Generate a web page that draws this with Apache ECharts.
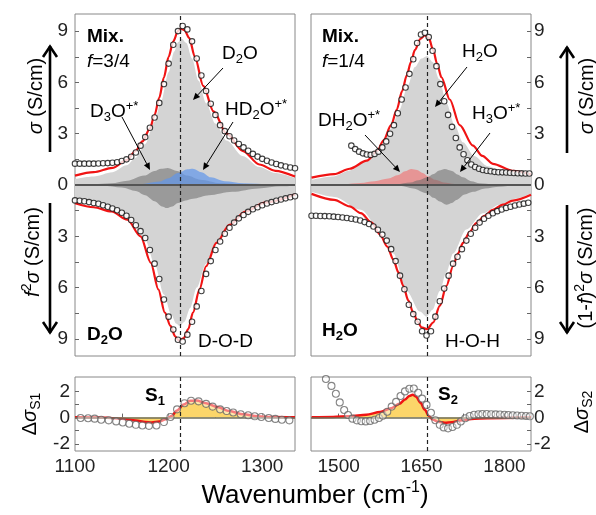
<!DOCTYPE html>
<html><head><meta charset="utf-8">
<script src="https://cdn.jsdelivr.net/npm/echarts@6/dist/echarts.min.js"></script>
<style>html,body{margin:0;padding:0;background:#fff}#c{width:596px;height:515px}</style>
</head><body><div id="c"></div>
<script>
// ---------------- DATA ----------------
const peakLeft = 1212, peakRight = 1660;
const leftRange = [1100, 1335], rightRange = [1450, 1848];
const mainTicks = [-9,-7.5,-6,-4.5,-3,-1.5,0,1.5,3,4.5,6,7.5,9];
const mainLabels = [-9,-6,-3,0,3,6,9];
const diffTicks = [-2,-1,0,1,2];
const diffLabels = [-2,0,2];
const leftXTicks = [1150,1200,1250,1300];
const leftXLabels = [1100,1200,1300];
const rightXTicks = [1500,1575,1650,1725,1800];
const rightXLabels = [1500,1650,1800];

// Top-left: mixture f=3/4 (sigma)
const tlObsX = [1100,1105,1110,1115,1120,1125,1130,1135,1140,1145,1150,1155,1160,1165,1170,1175,1180,1185,1190,1195,1200,1205,1210,1215,1220,1225,1230,1235,1240,1245,1250,1255,1260,1265,1270,1275,1280,1285,1290,1295,1300,1305,1310,1315,1320,1325,1330,1335];
const tlObs = [1.25,1.25,1.25,1.25,1.25,1.26,1.27,1.28,1.3,1.33,1.4,1.5,1.65,1.9,2.3,2.8,3.35,3.95,4.8,5.9,7.1,8.2,9.0,9.3,9.1,8.4,7.4,6.4,5.5,4.75,4.1,3.5,3.15,2.85,2.6,2.4,2.2,2.0,1.82,1.66,1.53,1.42,1.32,1.23,1.15,1.08,1.02,0.98];
const tlFit = [[1100,0.55],[1120,0.75],[1140,1.0],[1155,1.45],[1165,2.0],[1172,2.55],[1180,3.3],[1185,4.1],[1190,5.1],[1195,6.3],[1200,7.5],[1205,8.4],[1210,9.0],[1213,9.15],[1217,9.05],[1222,8.6],[1228,7.5],[1237,5.8],[1248,4.3],[1262,3.0],[1279,2.0],[1297,1.2],[1314,0.83],[1335,0.5]];
const tlD2O = [[1100,0.35],[1120,0.5],[1140,0.75],[1155,1.15],[1165,1.6],[1175,2.4],[1185,3.7],[1192,4.9],[1200,6.6],[1206,7.8],[1210,8.35],[1214,8.55],[1219,8.3],[1225,7.4],[1232,6.1],[1240,4.8],[1250,3.6],[1262,2.6],[1279,1.7],[1297,1.05],[1314,0.7],[1335,0.4]];
const tlD3O = [[1100,0.01],[1120,0.04],[1139,0.1],[1156,0.25],[1174,0.55],[1185,0.82],[1192,0.95],[1199,1.0],[1209,0.82],[1220,0.55],[1234,0.3],[1255,0.1],[1290,0.02],[1335,0]];
const tlHD2O = [[1150,0.01],[1170,0.05],[1190,0.2],[1200,0.4],[1210,0.7],[1220,0.92],[1226,0.95],[1235,0.75],[1245,0.45],[1260,0.22],[1280,0.1],[1310,0.03],[1335,0.01]];

// Bottom-left: pure D2O (f^2 sigma), magnitudes plotted downward
const blObsX = tlObsX;
const blObs = [0.9,0.92,0.95,1.0,1.05,1.1,1.18,1.27,1.37,1.48,1.62,1.8,2.05,2.35,2.7,3.1,3.8,4.6,5.5,6.7,7.7,8.45,9.05,9.15,8.75,8.0,7.1,6.2,5.2,4.45,3.8,3.3,2.85,2.5,2.2,1.95,1.75,1.57,1.42,1.3,1.18,1.08,1.0,0.92,0.85,0.78,0.72,0.66];
const blFit = [[1100,1.07],[1120,1.3],[1139,1.55],[1156,2.03],[1170,3.0],[1181,4.55],[1189,6.1],[1196,7.46],[1202,8.24],[1207,8.85],[1211,9.1],[1216,8.97],[1221,8.43],[1226,7.46],[1233,6.1],[1240,4.75],[1251,3.39],[1265,2.33],[1282,1.55],[1303,1.03],[1335,0.56]];
const blMain = [[1100,0.85],[1120,1.05],[1140,1.4],[1160,2.1],[1175,3.2],[1185,4.6],[1195,6.4],[1203,7.6],[1208,8.1],[1212,8.25],[1217,8.0],[1223,7.2],[1230,6.0],[1240,4.6],[1250,3.4],[1265,2.3],[1282,1.5],[1303,0.98],[1335,0.55]];
const blMinor = [[1100,0.01],[1130,0.05],[1150,0.15],[1165,0.35],[1175,0.6],[1185,0.95],[1193,1.25],[1198,1.35],[1204,1.25],[1210,1.05],[1218,0.9],[1226,0.8],[1243,0.6],[1268,0.4],[1296,0.2],[1320,0.08],[1335,0.04]];

// Top-right: mixture f=1/4 (sigma)
const trObsX = [1523,1530,1537,1544,1551,1558,1565,1572,1579,1586,1593,1600,1607,1614,1621,1628,1635,1642,1649,1656,1663,1670,1677,1684,1691,1698,1705,1712,1719,1726,1733,1740,1747,1754,1761,1768,1775,1782,1789,1796,1803,1810,1817,1824,1831,1838,1845];
const trObs = [2.3,2.1,1.95,1.85,1.78,1.76,1.82,1.95,2.2,2.55,3.0,3.5,4.2,5.0,5.7,6.5,7.35,8.3,8.8,8.9,8.65,7.85,6.95,5.9,4.9,4.1,3.4,2.75,2.2,1.8,1.45,1.2,1.05,0.95,0.88,0.83,0.8,0.77,0.75,0.74,0.73,0.72,0.7,0.69,0.68,0.67,0.67];
const trFit = [[1451,0.43],[1492,0.64],[1520,0.95],[1551,1.42],[1570,2.0],[1581,2.6],[1595,3.5],[1605,4.4],[1615,5.5],[1623,6.4],[1631,7.2],[1638,7.9],[1648,8.55],[1656,8.75],[1663,8.6],[1671,7.9],[1678,7.1],[1686,6.3],[1701,5.0],[1719,3.5],[1743,2.3],[1760,1.7],[1779,1.24],[1815,0.83],[1848,0.62]];
const trH2O = [[1451,0.3],[1490,0.5],[1520,0.85],[1550,1.4],[1575,2.2],[1595,3.3],[1610,4.4],[1625,5.8],[1638,6.9],[1650,7.4],[1660,7.55],[1670,7.2],[1682,6.2],[1695,4.8],[1710,3.5],[1725,2.5],[1745,1.7],[1770,1.1],[1800,0.75],[1848,0.5]];
const trDH2O = [[1480,0.01],[1510,0.05],[1540,0.12],[1565,0.22],[1590,0.38],[1608,0.58],[1620,0.8],[1632,0.93],[1642,0.88],[1652,0.7],[1662,0.5],[1675,0.3],[1690,0.15],[1710,0.06],[1740,0.02],[1780,0]];
const trH3O = [[1580,0.01],[1605,0.05],[1630,0.15],[1645,0.28],[1660,0.45],[1672,0.65],[1682,0.85],[1692,0.93],[1705,0.82],[1715,0.62],[1725,0.45],[1740,0.22],[1755,0.1],[1780,0.03],[1820,0]];

// Bottom-right: pure H2O ((1-f)^2 sigma)
const brObsX = [1451,1459,1467,1475,1483,1491,1499,1507,1515,1523,1531,1539,1547,1555,1563,1571,1579,1587,1595,1603,1611,1619,1627,1635,1643,1651,1659,1667,1675,1683,1691,1699,1707,1715,1723,1731,1739,1747,1755,1763,1771,1779,1787,1795,1803,1811,1819,1827,1835,1843];
const brObs = [1.8,1.8,1.81,1.82,1.83,1.85,1.87,1.9,1.93,1.97,2.02,2.08,2.17,2.28,2.43,2.62,2.9,3.25,3.75,4.45,5.3,6.1,7.0,7.55,8.0,8.55,8.8,8.55,7.7,6.8,6.05,5.3,4.6,4.2,3.75,3.25,2.85,2.5,2.2,1.97,1.8,1.65,1.53,1.43,1.34,1.27,1.2,1.14,1.09,1.04];
const brFit = [[1451,0.52],[1492,0.87],[1520,1.25],[1540,1.65],[1560,2.2],[1575,2.9],[1588,3.6],[1599,4.36],[1608,5.1],[1617,5.9],[1626,6.75],[1635,7.46],[1643,8.0],[1650,8.33],[1660,8.43],[1671,8.04],[1683,7.07],[1695,5.9],[1707,4.75],[1716,4.0],[1725,3.39],[1737,2.75],[1749,2.23],[1764,1.8],[1779,1.45],[1797,1.15],[1815,0.91],[1848,0.57]];
const brMain = [[1451,0.4],[1492,0.7],[1540,1.45],[1575,2.6],[1599,4.0],[1623,6.2],[1647,7.4],[1659,7.7],[1670,7.3],[1683,6.2],[1695,5.1],[1707,4.0],[1731,2.6],[1761,1.65],[1791,1.15],[1820,0.8],[1848,0.5]];
const brMinor = [[1590,0.01],[1611,0.05],[1635,0.2],[1659,0.48],[1672,0.75],[1683,0.97],[1695,1.16],[1705,1.05],[1713,0.87],[1728,0.55],[1743,0.4],[1765,0.2],[1791,0.1],[1820,0.03],[1848,0.01]];

// Difference spectra
const s1ObsX = [1106,1114,1121,1128,1136,1144,1151,1158,1165,1172,1179,1187,1195,1202,1209,1217,1224,1232,1240,1247,1255,1262,1269,1277,1285,1292,1299,1307,1314,1321,1329];
const s1Obs = [-0.03,-0.05,-0.08,-0.16,-0.21,-0.29,-0.37,-0.47,-0.55,-0.6,-0.63,-0.6,-0.34,0.05,0.63,1.1,1.29,1.24,1.05,0.84,0.63,0.5,0.39,0.26,0.18,0.1,0.05,-0.03,-0.1,-0.16,-0.21];
const s1Fit = [[1100,0.02],[1130,0.0],[1150,-0.08],[1165,-0.22],[1175,-0.33],[1182,-0.37],[1190,-0.3],[1197,-0.12],[1203,0.12],[1209,0.55],[1216,1.0],[1223,1.28],[1230,1.3],[1240,1.1],[1252,0.8],[1265,0.5],[1280,0.25],[1295,0.1],[1310,0.04],[1335,0.02]];
const s2ObsX = [1477,1487,1495,1502,1510,1517,1525,1533,1541,1549,1557,1565,1573,1580,1588,1596,1604,1612,1620,1628,1636,1644,1651,1659,1667,1675,1683,1690,1698,1706,1714,1721,1729,1737,1745,1753,1760,1768,1776,1784,1792,1800,1807,1815,1823,1831,1839,1846];
const s2Obs = [2.95,2.42,1.82,1.16,0.58,0.2,-0.08,-0.21,-0.28,-0.29,-0.25,-0.16,-0.03,0.15,0.45,0.84,1.2,1.65,2.0,2.2,2.22,1.9,1.45,0.97,0.37,-0.2,-0.55,-0.75,-0.82,-0.72,-0.55,-0.3,-0.05,0.12,0.22,0.26,0.27,0.27,0.26,0.25,0.24,0.22,0.2,0.18,0.16,0.14,0.12,0.1];
const s2Fit = [[1451,0.02],[1490,0.05],[1520,0.1],[1550,0.22],[1575,0.42],[1595,0.72],[1610,1.05],[1620,1.38],[1628,1.65],[1634,1.75],[1640,1.6],[1648,1.15],[1656,0.6],[1663,0.15],[1670,-0.15],[1680,-0.32],[1692,-0.4],[1705,-0.35],[1720,-0.22],[1740,-0.1],[1770,-0.04],[1848,0]];

// ---------------- STYLE ----------------
const FONT = '"Liberation Sans", Arial, Helvetica, sans-serif';
const RED = '#f01414';
const LIGHT = '#d4d4d4';
const DARK = 'rgba(105,105,105,0.55)';
const BLUE = 'rgba(95,150,235,0.7)';
const PINK = 'rgba(240,115,115,0.65)';
const YELLOW = '#fcd669';

const series = [];
function addArea(g, data, color, sign) {
  series.push({type:'line', xAxisIndex:g, yAxisIndex:g, data:data.map(p=>[p[0], sign*p[1]]),
    smooth:0.3, smoothMonotone:'x', symbol:'none', lineStyle:{opacity:0}, areaStyle:{color:color, opacity:1},
    silent:true, z:2});
}
function addFit(g, data, sign, width, fill) {
  const s = {type:'line', xAxisIndex:g, yAxisIndex:g, data:data.map(p=>[p[0], sign*p[1]]),
    smooth:0.3, smoothMonotone:'x', symbol:'none', lineStyle:{color:RED, width:width}, silent:true, z:3};
  if (fill) s.areaStyle = {color:fill, opacity:1};
  series.push(s);
}
function addObs(g, xs, vs, sign, size, fill, border) {
  series.push({type:'scatter', xAxisIndex:g, yAxisIndex:g, data:xs.map((x,i)=>[x, sign*vs[i]]),
    symbol:'circle', symbolSize:size, itemStyle:{color:fill, borderColor:border, borderWidth:1.1}, silent:true, z:6});
}
function addRefs(g, peak, zeroColor, zeroWidth) {
  series.push({type:'line', xAxisIndex:g, yAxisIndex:g, data:[], silent:true, z:5,
    markLine:{silent:true, symbol:['none','none'], animation:false, label:{show:false},
      data:[{yAxis:0, lineStyle:{color:zeroColor, width:zeroWidth, type:'solid'}},
            {xAxis:peak, lineStyle:{color:'#222', width:1.2, type:[4,3]}}]}});
}

// left main
addArea(0, tlD2O, LIGHT, 1);
addArea(0, blMain, LIGHT, -1);
addArea(0, tlD3O, DARK, 1);
addArea(0, blMinor, DARK, -1);
addArea(0, tlHD2O, BLUE, 1);
addFit(0, tlFit, 1, 2.2);
addFit(0, blFit, -1, 2.2);
addObs(0, tlObsX, tlObs, 1, 5.5, '#fff', '#111');
addObs(0, blObsX, blObs, -1, 5.5, '#fff', '#111');
addRefs(0, peakLeft, '#555', 2);
// right main
addArea(1, trH2O, LIGHT, 1);
addArea(1, brMain, LIGHT, -1);
addArea(1, trDH2O, PINK, 1);
addArea(1, trH3O, DARK, 1);
addArea(1, brMinor, DARK, -1);
addFit(1, trFit, 1, 2.2);
addFit(1, brFit, -1, 2.2);
addObs(1, trObsX, trObs, 1, 5.5, '#fff', '#111');
addObs(1, brObsX, brObs, -1, 5.5, '#fff', '#111');
addRefs(1, peakRight, '#555', 2);
// diff panels
addFit(2, s1Fit, 1, 2.5, YELLOW);
addFit(3, s2Fit, 1, 2.5, YELLOW);
addRefs(2, peakLeft, '#6e6e5a', 1.5);
addRefs(3, peakRight, '#6e6e5a', 1.5);
addObs(2, s1ObsX, s1Obs, 1, 7, 'rgba(255,255,255,0.55)', '#666');
addObs(3, s2ObsX, s2Obs, 1, 7, 'rgba(255,255,255,0.55)', '#666');

const plainFmt = v => String(v);
const absFmt = v => String(Math.abs(v));
function xAxis(g, range, ticks, labels) {
  return {type:'value', gridIndex:g, min:range[0], max:range[1],
    axisLine:{show:false}, splitLine:{show:false},
    axisTick:{show:true, inside:true, length:4, customValues:ticks, lineStyle:{color:'#666'}},
    axisLabel: labels ? {show:true, customValues:labels, formatter:plainFmt, fontSize:19, fontFamily:FONT, color:'#222', margin:6} : {show:false}};
}
function yAxis(g, min, max, pos, ticks, labels, fmt, margin) {
  return {type:'value', gridIndex:g, min:min, max:max, position:pos,
    axisLine:{show:false}, splitLine:{show:false},
    axisTick:{show:true, inside:true, length:4, customValues:ticks, lineStyle:{color:'#666'}},
    axisLabel:{show:true, customValues:labels, formatter:fmt, fontSize:19, fontFamily:FONT, color:'#222', margin:margin}};
}

const gridStyle = {show:true, borderColor:'#888', borderWidth:1, backgroundColor:'transparent'};
const option = {
  animation:false,
  grid:[
    Object.assign({left:75, top:14, width:220, height:342}, gridStyle),
    Object.assign({left:311, top:14, width:220, height:342}, gridStyle),
    Object.assign({left:75, top:377, width:220, height:74}, gridStyle),
    Object.assign({left:311, top:377, width:220, height:74}, gridStyle)
  ],
  xAxis:[
    xAxis(0, leftRange, leftXTicks, null),
    xAxis(1, rightRange, rightXTicks, null),
    xAxis(2, leftRange, leftXTicks, leftXLabels),
    xAxis(3, rightRange, rightXTicks, rightXLabels)
  ],
  yAxis:[
    yAxis(0, -10, 10, 'left', mainTicks, mainLabels, absFmt, 7),
    yAxis(1, -10, 10, 'right', mainTicks, mainLabels, absFmt, 3),
    yAxis(2, -2.55, 3.1, 'left', diffTicks, diffLabels, plainFmt, 5),
    yAxis(3, -2.55, 3.1, 'right', diffTicks, diffLabels, plainFmt, 3)
  ],
  series: series,
  graphic: []
};

// ---------------- ANNOTATIONS ----------------
const rich = {
  n:{fontSize:19, fontFamily:FONT, lineHeight:24, color:'#111'},
  b:{fontSize:19, fontFamily:FONT, lineHeight:24, color:'#111', fontWeight:'bold'},
  i:{fontSize:19, fontFamily:FONT, lineHeight:24, color:'#111', fontStyle:'italic'},
  s:{fontSize:13, fontFamily:FONT, lineHeight:14, color:'#111', verticalAlign:'bottom'},
  sb:{fontSize:13, fontFamily:FONT, lineHeight:14, color:'#111', verticalAlign:'bottom', fontWeight:'bold'},
  p:{fontSize:13, fontFamily:FONT, lineHeight:14, color:'#111', verticalAlign:'top'},
  an:{fontSize:20, fontFamily:FONT, lineHeight:26, color:'#111'},
  ai:{fontSize:20, fontFamily:FONT, lineHeight:26, color:'#111', fontStyle:'italic'},
  ap:{fontSize:14, fontFamily:FONT, lineHeight:15, color:'#111', verticalAlign:'top'},
  as:{fontSize:14, fontFamily:FONT, lineHeight:15, color:'#111', verticalAlign:'bottom'},
  wn:{fontSize:26, fontFamily:FONT, lineHeight:32, color:'#111'},
  wp:{fontSize:16, fontFamily:FONT, lineHeight:17, color:'#111', verticalAlign:'top'}
};
function T(x, y, text, align, rot) {
  return {type:'text', x:x, y:y, rotation:rot||0, silent:true, z:100,
    style:{text:text, rich:rich, textAlign:align||'left', textVerticalAlign:'middle', font:'19px '+FONT}};
}
function arrow(x1,y1,x2,y2) {
  const a = Math.atan2(y2-y1, x2-x1), hl = 7, hw = 3.2;
  const bx = x2 - hl*Math.cos(a), by = y2 - hl*Math.sin(a);
  const px = -Math.sin(a)*hw, py = Math.cos(a)*hw;
  return [
    {type:'line', silent:true, z:100, shape:{x1:x1,y1:y1,x2:bx,y2:by}, style:{stroke:'#000', lineWidth:1}},
    {type:'polygon', silent:true, z:100, shape:{points:[[x2,y2],[bx+px,by+py],[bx-px,by-py]]}, style:{fill:'#000'}}
  ];
}
function bigArrow(x, y1, y2) {
  const d = y2 < y1 ? 1 : -1;
  return [
    {type:'line', silent:true, z:100, shape:{x1:x,y1:y1,x2:x,y2:y2}, style:{stroke:'#000', lineWidth:2.6}},
    {type:'polyline', silent:true, z:100, shape:{points:[[x-7,y2+d*11],[x,y2+d*0.5],[x+7,y2+d*11]]}, style:{stroke:'#000', lineWidth:2.6, fill:null}}
  ];
}
const R = Math.PI/2;
option.graphic = [].concat(
  [
    T(87, 37, '{b|Mix.}'), T(87, 62, '{i|f}{n|=3/4}'),
    T(222, 54, '{n|D}{s|2}{n|O}'),
    T(90, 112, '{n|D}{s|3}{n|O}{p|+*}'),
    T(225, 110, '{n|HD}{s|2}{n|O}{p|+*}'),
    T(322, 37, '{b|Mix.}'), T(322, 62, '{i|f}{n|=1/4}'),
    T(462, 52, '{n|H}{s|2}{n|O}'),
    T(318, 121, '{n|DH}{s|2}{n|O}{p|+*}'),
    T(472, 114, '{n|H}{s|3}{n|O}{p|+*}'),
    T(87, 335, '{b|D}{sb|2}{b|O}'),
    T(198, 342, '{n|D-O-D}'),
    T(322, 331, '{b|H}{sb|2}{b|O}'),
    T(445, 342, '{n|H-O-H}'),
    T(145, 396, '{b|S}{sb|1}'),
    T(438, 395, '{b|S}{sb|2}'),
    T(36, 96, '{ai|σ}{an| (S/cm)}', 'center', R),
    T(33, 252, '{ai|f}{ap|2}{ai|σ}{an| (S/cm)}', 'center', R),
    T(587, 96, '{ai|σ}{an| (S/cm)}', 'center', R),
    T(586, 268, '{an|(1-}{ai|f}{an|)}{ap|2}{ai|σ}{an| (S/cm)}', 'center', R),
    T(30, 414, '{an|Δ}{ai|σ}{as|S1}', 'center', R),
    T(582, 412, '{an|Δ}{ai|σ}{as|S2}', 'center', R),
    T(315, 496, '{wn|Wavenumber (cm}{wp|-1}{wn|)}', 'center')
  ],
  arrow(223,68,193,100), arrow(122,117,150,170), arrow(233,122,203,170),
  arrow(467,67,435,107), arrow(365,135,400,172), arrow(490,133,460,172),
  bigArrow(50,152,46), bigArrow(50,203,333), bigArrow(567,153,47), bigArrow(567,205,333)
);

const chart = echarts.init(document.getElementById('c'), null, {renderer:'canvas'});
chart.setOption(option);
</script></body></html>
